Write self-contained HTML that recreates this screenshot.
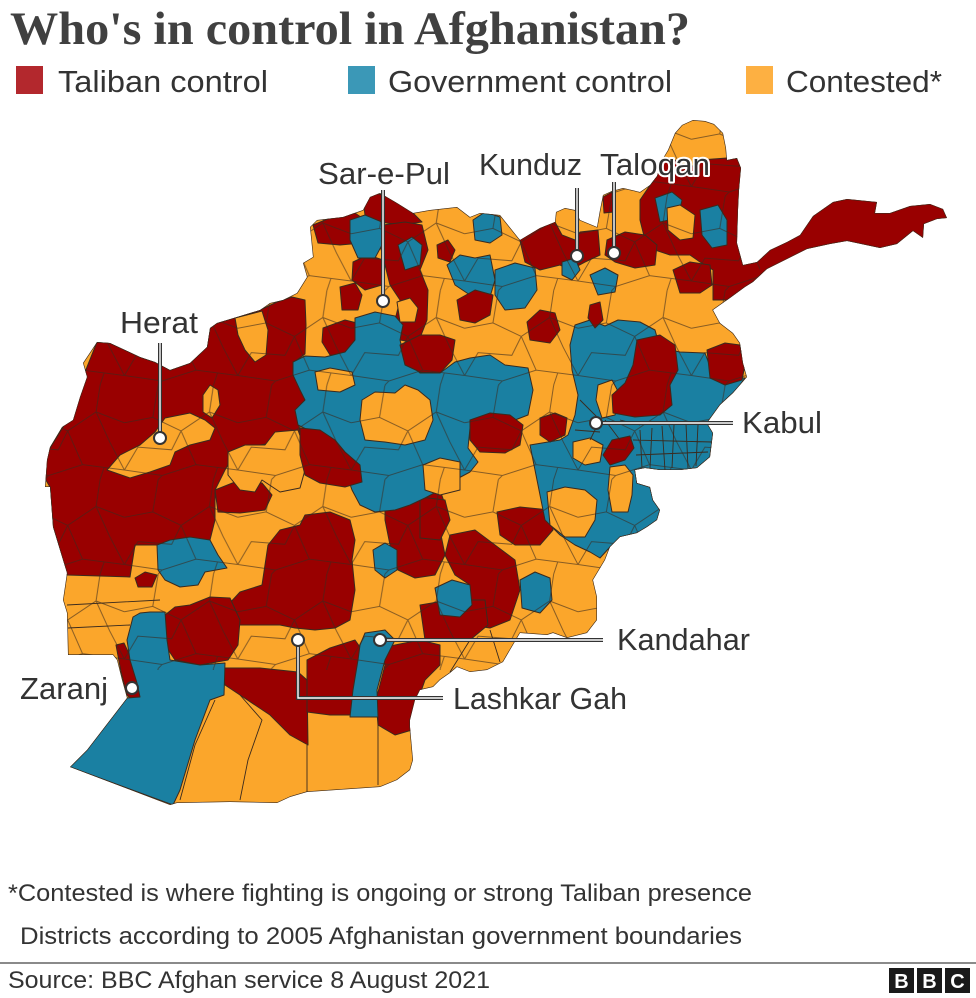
<!DOCTYPE html>
<html><head><meta charset="utf-8"><style>
html,body{margin:0;padding:0;background:#fff;}
svg{display:block;}
</style></head><body>
<svg width="976" height="998" viewBox="0 0 976 998" xmlns="http://www.w3.org/2000/svg">
<rect width="976" height="998" fill="#fff"/>
<defs>
<clipPath id="af"><path id="outl" d="M45,487 L47,460 L50,447 L62,427 L73,420 L80,397 L87,377 L83,363 L97,342 L110,343 L140,357 L155,362 L170,370 L190,363 L207,347 L210,328 L217,323 L237,317 L260,310 L270,303 L283,300 L297,293 L307,277 L303,263 L313,257 L310,227 L317,220 L343,217 L363,210 L370,197 L380,193 L397,203 L413,213 L430,210 L457,207 L470,217 L480,213 L500,215 L512,230 L520,240 L540,228 L555,222 L556,212 L565,208 L575,210 L580,220 L597,227 L600,210 L603,195 L612,191 L623,188 L640,192 L650,185 L657,176 L662,160 L668,150 L675,133 L682,125 L693,120 L705,121 L714,124 L723,133 L726,148 L727,160 L737,158 L741,168 L739,190 L738,210 L737,243 L743,265 L757,262 L770,250 L787,242 L800,235 L813,216 L833,202 L847,199 L867,201 L877,202 L875,213 L890,213 L910,206 L930,204 L943,209 L947,218 L937,219 L924,224 L923,238 L913,231 L897,244 L880,248 L847,241 L830,244 L807,249 L787,259 L767,269 L753,282 L745,287 L730,298 L713,310 L720,323 L733,333 L740,343 L743,363 L747,377 L740,385 L733,393 L720,405 L707,423 L713,433 L710,457 L697,468 L680,470 L660,470 L645,468 L635,470 L637,483 L650,487 L653,500 L660,510 L657,520 L647,527 L637,533 L620,537 L610,547 L605,560 L593,580 L597,597 L597,620 L587,633 L567,638 L553,633 L547,635 L520,633 L510,650 L503,662 L487,670 L470,672 L457,667 L450,673 L440,680 L433,687 L420,690 L415,700 L410,720 L410,727 L413,760 L410,770 L397,780 L380,787 L307,792 L290,797 L277,803 L230,802 L177,803 L170,805 L70,767 L87,750 L127,698 L122,680 L117,660 L113,655 L68,655 L67,613 L63,600 L67,573 L53,527 L50,487 Z"/></clipPath>
<pattern id="dist" width="84" height="70" patternUnits="userSpaceOnUse" patternTransform="translate(11,7) scale(1.35)">
<path d="M0,28 L21,24 L42,34 L63,20 L84,28 M0,63 L28,67 L53,59 L84,63 M21,24 L25,0 M28,67 L25,70 M42,34 L53,59 M63,20 L66,0 M66,70 L69,61 M63,20 L73,42 L84,63 M42,34 L35,48 L10,46 L0,63" fill="none" stroke="#3a2a1e" stroke-width="0.75"/>
</pattern>
</defs>

<!-- Title -->
<text x="10" y="44" font-family="Liberation Serif, serif" font-weight="bold" font-size="47" fill="#404040" textLength="680" lengthAdjust="spacingAndGlyphs">Who's in control in Afghanistan?</text>

<!-- Legend -->
<rect x="16" y="66" width="27" height="28" fill="#b3282d"/>
<text x="58" y="92" font-family="Liberation Sans, sans-serif" font-size="31" fill="#333" textLength="210" lengthAdjust="spacingAndGlyphs">Taliban control</text>
<rect x="348" y="66" width="27" height="28" fill="#3b98b7"/>
<text x="388" y="92" font-family="Liberation Sans, sans-serif" font-size="31" fill="#333" textLength="284" lengthAdjust="spacingAndGlyphs">Government control</text>
<rect x="746" y="66" width="27" height="28" fill="#fdb042"/>
<text x="786" y="92" font-family="Liberation Sans, sans-serif" font-size="31" fill="#333" textLength="156" lengthAdjust="spacingAndGlyphs">Contested*</text>

<!-- Map -->
<g clip-path="url(#af)" stroke="#3a2a1e" stroke-width="1" stroke-linejoin="round">
<use href="#outl" fill="#fba62b" stroke="none"/>
<g fill="#990000">
<polygon points="40,470 47,453 63,427 83,377 97,342 110,343 140,357 155,362 170,370 190,363 207,347 210,328 217,323 237,317 260,310 277,302 292,297 305,300 306,325 305,354 294,362 293,373 310,378 328,392 322,408 298,418 300,433 285,441 260,445 235,452 225,470 215,490 215,520 210,540 185,540 160,545 135,545 130,577 67,575 53,527 50,487"/>
<polygon points="640,200 655,178 662,158 675,160 690,168 700,160 727,158 760,160 960,190 960,260 760,292 730,300 713,300 713,270 700,262 690,255 670,255 655,250 645,240 640,220"/>
<polygon points="363,200 375,193 395,198 410,210 422,222 400,225 380,222 365,215"/>
<polygon points="313,225 330,218 355,213 365,220 362,243 340,245 318,243"/>
<polygon points="383,225 405,222 422,225 428,250 420,270 428,290 427,320 418,343 400,340 395,320 400,300 390,285 385,265 380,245"/>
<polygon points="353,262 368,255 383,260 382,285 365,290 352,280"/>
<polygon points="340,287 355,283 362,295 358,310 342,310"/>
<polygon points="323,328 345,320 365,325 362,345 350,357 330,355 322,342"/>
<polygon points="518,232 540,225 555,222 562,235 575,240 580,232 598,230 600,255 585,262 570,270 560,265 540,270 525,262"/>
<polygon points="607,240 625,232 645,235 657,245 655,265 635,268 615,262 605,255"/>
<polygon points="603,197 612,192 614,212 604,213"/>
<polygon points="215,490 235,482 262,483 272,495 265,510 240,513 218,512"/>
<polygon points="268,545 280,530 300,525 305,515 330,512 350,520 355,540 352,560 355,590 350,620 335,628 315,630 295,628 280,625 260,625 232,625 228,605 240,592 262,585 265,565"/>
<polygon points="165,615 175,607 190,605 210,597 230,598 240,620 238,645 228,660 200,665 175,660 165,645"/>
<polygon points="222,668 260,668 298,672 307,680 308,745 290,735 270,715 240,695 225,685"/>
<polygon points="307,660 330,648 355,640 362,650 360,690 350,715 330,715 307,712"/>
<polygon points="378,648 395,645 420,640 440,645 440,665 425,680 418,700 412,730 395,735 378,725 376,700 385,665"/>
<polygon points="385,490 410,486 440,490 447,510 440,530 445,555 435,575 415,578 398,570 390,545 385,520"/>
<polygon points="420,497 445,500 450,520 440,540 420,538"/>
<polygon points="497,512 520,507 550,510 553,530 540,545 515,545 500,535"/>
<polygon points="450,535 475,530 495,545 515,560 520,590 510,620 490,628 470,625 465,600 470,585 455,575 445,555"/>
<polygon points="420,605 450,600 485,600 488,625 470,640 445,640 425,640"/>
<polygon points="116,645 124,643 132,660 138,678 148,690 162,694 156,703 135,703 127,695 121,672"/>
<polygon points="135,578 145,572 157,575 152,587 138,587"/>
</g>
<g fill="#1a80a2">
<polygon points="355,318 375,312 395,316 403,325 400,340 405,360 420,373 440,373 455,362 470,358 490,355 505,365 528,368 533,390 528,415 515,420 500,415 480,418 470,428 468,448 478,462 470,472 455,480 440,490 425,498 410,505 395,510 375,512 360,505 352,490 345,470 335,450 318,435 298,425 295,410 305,400 300,390 293,375 293,362 305,356 325,357 345,352 355,340"/>
<polygon points="575,325 590,320 605,326 618,320 640,322 655,330 660,348 680,352 705,353 712,372 730,378 745,378 740,385 733,393 720,405 707,423 713,433 710,457 697,468 680,470 660,470 645,468 635,470 637,483 650,487 653,500 660,510 657,520 647,527 637,533 620,537 610,547 600,558 590,552 575,545 560,535 545,520 540,495 535,470 530,445 560,440 568,435 575,415 578,395 572,370 570,345"/>
<polygon points="127,640 133,617 140,613 150,612 165,612 167,640 170,660 200,665 225,663 224,695 210,700 195,740 180,790 173,805 70,767 87,750 127,698 140,697 137,683 130,660"/>
<polygon points="365,633 385,630 395,640 385,660 377,690 378,717 350,717 353,690 358,660 360,645"/>
<polygon points="350,220 365,215 382,222 382,245 375,258 358,258 350,240"/>
<polygon points="398,245 412,237 422,245 420,265 405,270"/>
<polygon points="447,265 460,255 475,258 490,255 495,280 490,297 470,295 455,285"/>
<polygon points="473,220 485,212 500,217 502,235 490,243 475,240"/>
<polygon points="495,270 515,263 535,268 537,290 525,308 505,310 495,295"/>
<polygon points="562,262 575,258 580,270 572,280 562,275"/>
<polygon points="590,275 605,268 618,275 615,292 598,295"/>
<polygon points="157,545 170,540 190,537 210,540 218,555 227,568 205,572 198,585 180,587 165,580 158,570"/>
<polygon points="435,588 452,580 470,585 472,605 460,617 440,615"/>
<polygon points="520,580 535,572 550,578 552,600 540,613 522,608"/>
<polygon points="373,550 385,543 397,550 397,570 385,578 375,570"/>
<polygon points="655,198 672,192 682,200 678,218 660,222"/>
<polygon points="700,210 718,205 727,220 727,245 712,248 702,235"/>
</g>
<g fill="#fba62b">
<polygon points="235,318 262,311 268,330 266,355 255,362 245,350 238,335"/>
<polygon points="107,470 120,455 140,445 155,432 165,418 190,413 205,420 215,428 210,440 190,445 175,452 170,465 150,472 130,478"/>
<polygon points="203,395 210,385 218,390 220,405 212,418 203,412"/>
<polygon points="228,452 245,445 265,445 275,432 298,430 305,450 305,470 300,488 280,492 262,480 255,492 240,490 228,475"/>
<polygon points="362,400 375,392 395,393 405,385 418,390 430,400 433,420 425,440 405,445 385,442 365,440 360,420"/>
<polygon points="315,372 330,368 352,372 355,385 340,392 318,390"/>
<polygon points="423,465 440,458 460,462 460,490 440,495 425,490"/>
<polygon points="397,302 410,298 418,308 415,322 400,322"/>
<polygon points="667,208 680,205 695,215 693,238 680,240 668,230"/>
<polygon points="598,385 612,380 620,395 615,415 602,418 596,400"/>
<polygon points="573,442 590,438 603,445 600,462 585,465 573,458"/>
<polygon points="547,492 565,487 585,490 597,500 595,520 585,537 565,537 550,525"/>
<polygon points="610,467 625,465 633,475 632,495 628,512 612,512 608,490"/>
</g>
<g fill="#990000">
<polygon points="300,428 320,430 335,440 345,452 360,465 362,482 345,487 320,483 305,475 300,455"/>
<polygon points="400,345 420,335 440,335 455,340 452,360 440,373 420,372 405,365"/>
<polygon points="437,245 448,240 455,250 450,262 438,258"/>
<polygon points="470,420 490,413 510,415 523,425 520,445 505,453 480,452 470,440"/>
<polygon points="540,418 555,413 567,418 565,435 550,442 540,435"/>
<polygon points="457,300 475,290 493,295 490,315 475,323 460,320"/>
<polygon points="527,322 540,310 555,313 560,330 550,343 530,340"/>
<polygon points="590,305 600,302 603,320 595,328 588,318"/>
<polygon points="637,340 660,335 675,345 678,370 670,385 672,405 660,415 635,417 613,413 612,395 625,383 633,365"/>
<polygon points="707,350 725,343 740,345 745,365 742,380 725,385 710,378"/>
<polygon points="673,270 690,262 710,265 712,285 700,293 680,293"/>
<polygon points="603,455 612,440 630,436 634,448 625,460 610,465"/>
</g>
<rect x="40" y="110" width="720" height="560" fill="url(#dist)" stroke="none" opacity="0.6"/>
<g fill="none" stroke-width="0.9">
<path d="M640,430 L642,468 M652,428 L650,468 M662,426 L665,470 M674,425 L672,468 M686,424 L688,468 M698,425 L696,466 M633,440 L712,442 M636,455 L708,452 M580,400 L600,420 L590,440 M605,420 L620,440 M575,430 L600,432 M620,420 L640,425 M180,800 L195,745 L215,700 M240,800 L248,760 L262,720 L240,695 M307,792 L307,745 M378,785 L378,717 M450,672 L470,640 M500,662 L490,630 M67,605 L160,600 M68,628 L130,625"/>
</g>
<use href="#outl" fill="none" stroke="#3a2a1e" stroke-width="1.2"/>
</g>

<!-- Leader lines -->
<g fill="none" stroke-linecap="butt">
<path d="M383,190 V300 M577,188 V255 M614,182 V253 M160,343 V438 M596,423 H733 M380,640 H603 M298,640 V698 H443" stroke="#333" stroke-width="4"/>
<path d="M383,190 V300 M577,188 V255 M614,182 V253 M160,343 V438 M596,423 H733 M380,640 H603 M298,640 V698 H443" stroke="#fff" stroke-width="1.4"/>
</g>
<g fill="#fff" stroke="#333" stroke-width="2">
<circle cx="383" cy="301" r="6"/>
<circle cx="577" cy="256" r="6"/>
<circle cx="614" cy="253" r="6"/>
<circle cx="160" cy="438" r="6"/>
<circle cx="596" cy="423" r="6"/>
<circle cx="380" cy="640" r="6"/>
<circle cx="298" cy="640" r="6"/>
<circle cx="132" cy="688" r="6"/>
</g>

<!-- Place labels -->
<g font-family="Liberation Sans, sans-serif" font-size="31" fill="#333" stroke="#fff" stroke-width="4" paint-order="stroke" stroke-linejoin="round">
<text x="318" y="184" textLength="132" lengthAdjust="spacingAndGlyphs">Sar-e-Pul</text>
<text x="479" y="175" textLength="103" lengthAdjust="spacingAndGlyphs">Kunduz</text>
<text x="600" y="175" textLength="110" lengthAdjust="spacingAndGlyphs">Taloqan</text>
<text x="120" y="333" textLength="78" lengthAdjust="spacingAndGlyphs">Herat</text>
<text x="742" y="433" textLength="80" lengthAdjust="spacingAndGlyphs">Kabul</text>
<text x="617" y="650" textLength="133" lengthAdjust="spacingAndGlyphs">Kandahar</text>
<text x="453" y="709" textLength="174" lengthAdjust="spacingAndGlyphs">Lashkar Gah</text>
<text x="20" y="699" textLength="88" lengthAdjust="spacingAndGlyphs">Zaranj</text>
</g>

<!-- Footnotes -->
<g font-family="Liberation Sans, sans-serif" font-size="24" fill="#333">
<text x="8" y="901" textLength="744" lengthAdjust="spacingAndGlyphs">*Contested is where fighting is ongoing or strong Taliban presence</text>
<text x="20" y="944" textLength="722" lengthAdjust="spacingAndGlyphs">Districts according to 2005 Afghanistan government boundaries</text>
<text x="8" y="988" textLength="482" lengthAdjust="spacingAndGlyphs">Source: BBC Afghan service 8 August 2021</text>
</g>
<rect x="0" y="962" width="976" height="2" fill="#8a8a8a"/>

<!-- BBC logo -->
<g>
<rect x="889" y="968" width="25" height="25" fill="#1a1a1a"/>
<rect x="917" y="968" width="25" height="25" fill="#1a1a1a"/>
<rect x="945" y="968" width="25" height="25" fill="#1a1a1a"/>
<g font-family="Liberation Sans, sans-serif" font-weight="bold" font-size="20" fill="#fff" text-anchor="middle">
<text x="901.5" y="988">B</text>
<text x="929.5" y="988">B</text>
<text x="957.5" y="988">C</text>
</g>
</g>
</svg>
</body></html>
